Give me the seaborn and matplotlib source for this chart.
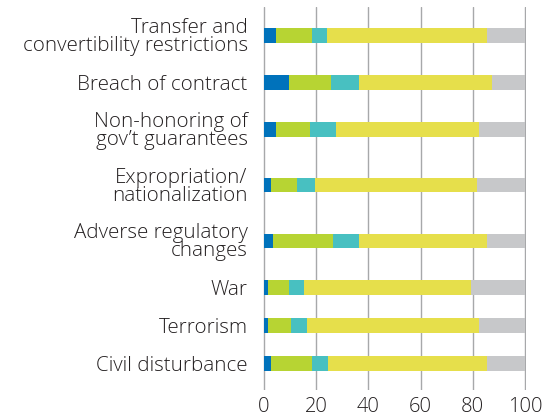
import numpy as np
import pandas as pd
import matplotlib
matplotlib.use('Agg')
from matplotlib import pyplot as plt
import seaborn as sns

# categories, top to bottom
risks = ['Transfer and\nconvertibility restrictions', 'Breach of contract',
         'Non-honoring of\ngov\u2019t guarantees', 'Expropriation/\nnationalization',
         'Adverse regulatory\nchanges', 'War', 'Terrorism', 'Civil disturbance']

# stacked shares (percent), left to right segments
seg_blue = [4.5, 9.5, 4.5, 2.5, 3.5, 1.5, 1.5, 2.5]
seg_green = [14, 16, 13, 10, 23, 8, 9, 16]
seg_teal = [5.5, 11, 10, 7, 10, 6, 6, 6]
seg_yellow = [61.5, 51, 55, 62, 49, 64, 66, 61]
seg_gray = [14.5, 12.5, 17.5, 18.5, 14.5, 20.5, 17.5, 14.5]

x_ticks = [0, 20, 40, 60, 80, 100]

colors = ['#0072bb', '#b7d433', '#48c0c1', '#e6df4b', '#c7c8ca']

sns.set_style('white')
plt.rcParams['font.family'] = ['Open Sans', 'DejaVu Sans']
plt.rcParams['font.weight'] = 'light'

# row spacing grows with the number of label lines
lines = [r.count('\n') + 1 for r in risks]
pos = [0.0]
for a, b in zip(lines, lines[1:]):
    pos.append(pos[-1] + 1.0 + 0.24 * ((a - 1) + (b - 1)))

segs = np.array([seg_blue, seg_green, seg_teal, seg_yellow, seg_gray])
cum = segs.cumsum(axis=0)
df = pd.DataFrame(cum.T, columns=['blue', 'green', 'teal', 'yellow', 'gray'])
df['pos'] = pos

fig = plt.figure(figsize=(5.51, 4.17), dpi=100)
ax = fig.add_axes([263 / 551, 1 - 390 / 417, 263 / 551, 383 / 417])

for col, c in reversed(list(zip(df.columns[:5], colors))):
    sns.barplot(data=df, x=col, y='pos', orient='h', native_scale=True,
                color=c, width=0.39, errorbar=None, saturation=1,
                linewidth=0, ax=ax)

ax.set_xlim(-0.4, 100.4)
ax.set_ylim(pos[-1] + 0.71, -0.76)
ax.set_xticks(x_ticks)
ax.set_xticklabels([str(t) for t in x_ticks])
ax.set_yticks(pos)
ax.set_yticklabels(risks)
for lbl in ax.get_yticklabels():
    lbl.set_linespacing(0.86)
ax.set_xlabel('')
ax.set_ylabel('')
ax.tick_params(axis='y', length=0, pad=11, labelsize=14.8, labelcolor='#231f20')
ax.tick_params(axis='x', length=0, pad=5, labelsize=14.5, labelcolor='#231f20')
ax.set_axisbelow(True)
ax.xaxis.grid(True, color='#a7a8aa', linewidth=1.0)
ax.yaxis.grid(False)
sns.despine(ax=ax, left=True, bottom=True)

fig.savefig('out.png', dpi=100)
